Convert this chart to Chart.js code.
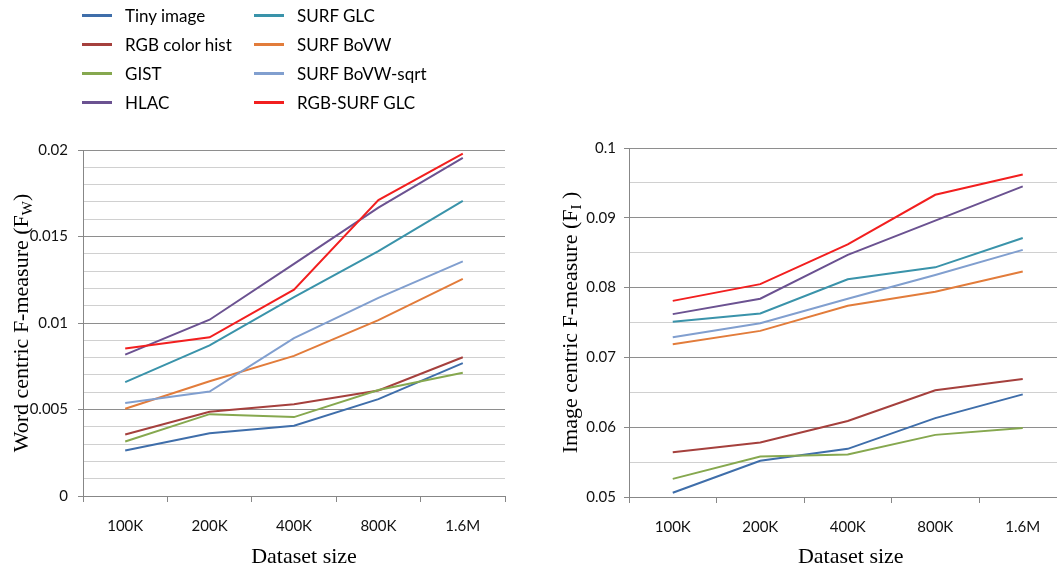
<!DOCTYPE html>
<html>
<head>
<meta charset="utf-8">
<script src="https://cdn.jsdelivr.net/npm/chart.js@4/dist/chart.umd.min.js"></script>
<style>
  html, body { margin: 0; padding: 0; background: #fff; width: 1057px; height: 566px; overflow: hidden; }
  #wrap { position: relative; width: 1057px; height: 566px; overflow: hidden; }
  #fwChart { position: absolute; left: 0; top: 0; }
  #fiChart { position: absolute; left: 540px; top: 0; }
  #legend { position: absolute; left: 0; top: 0; font-family: Lato, "Open Sans", sans-serif; font-size: 17px; color: #000; }
  .legend-item { position: absolute; height: 20px; display: flex; align-items: center; white-space: nowrap; }
  .legend-swatch { width: 30px; height: 3px; margin-right: 13px; }
</style>
</head>
<body>
<div id="wrap">
  <canvas id="fwChart" width="540" height="566"></canvas>
  <canvas id="fiChart" width="540" height="566"></canvas>
  <div id="legend"></div>
</div>
<script>
// Dataset sizes on the x axis
const categories = ['100K', '200K', '400K', '800K', '1.6M'];

// Feature names and line colours
const seriesNames = ['Tiny image', 'RGB color hist', 'GIST', 'HLAC', 'SURF GLC', 'SURF BoVW', 'SURF BoVW-sqrt', 'RGB-SURF GLC'];
const seriesColors = ['#3F6EAA', '#A5403D', '#86A84F', '#6B5291', '#3A93AA', '#E27C3B', '#819FCF', '#F21F1F'];

// Word centric F-measure (F_W)
const fwTinyImage    = [0.00263, 0.00363, 0.00406, 0.00560, 0.00768];
const fwRgbHist      = [0.00356, 0.00487, 0.00531, 0.00610, 0.00802];
const fwGist         = [0.00315, 0.00473, 0.00456, 0.00613, 0.00713];
const fwHlac         = [0.00817, 0.01019, 0.01342, 0.01667, 0.01954];
const fwSurfGlc      = [0.00658, 0.00871, 0.01149, 0.01416, 0.01706];
const fwSurfBovw     = [0.00504, 0.00663, 0.00810, 0.01017, 0.01255];
const fwSurfBovwSqrt = [0.00537, 0.00604, 0.00913, 0.01145, 0.01356];
const fwRgbSurfGlc   = [0.00852, 0.00917, 0.01193, 0.01710, 0.01979];

// Image centric F-measure (F_I)
const fiTinyImage    = [0.0506, 0.0552, 0.0569, 0.0613, 0.0647];
const fiRgbHist      = [0.0564, 0.0578, 0.0609, 0.0653, 0.0669];
const fiGist         = [0.0526, 0.0558, 0.0561, 0.0589, 0.0599];
const fiHlac         = [0.0762, 0.0784, 0.0847, 0.0896, 0.0945];
const fiSurfGlc      = [0.0751, 0.0763, 0.0812, 0.0829, 0.0871];
const fiSurfBovw     = [0.0719, 0.0738, 0.0774, 0.0794, 0.0823];
const fiSurfBovwSqrt = [0.0729, 0.0749, 0.0784, 0.0818, 0.0854];
const fiRgbSurfGlc   = [0.0781, 0.0805, 0.0862, 0.0933, 0.0962];

// Y axis ranges: [min, max, grid step, labelled step]
const fwAxis = [0, 0.02, 0.001, 0.005];
const fiAxis = [0.05, 0.1, 0.005, 0.01];

const wordCentric = [fwTinyImage, fwRgbHist, fwGist, fwHlac, fwSurfGlc, fwSurfBovw, fwSurfBovwSqrt, fwRgbSurfGlc];
const imageCentric = [fiTinyImage, fiRgbHist, fiGist, fiHlac, fiSurfGlc, fiSurfBovw, fiSurfBovwSqrt, fiRgbSurfGlc];

const AXIS_GRAY = '#878787';
const MAJOR_GRID = '#8E8E8E';
const MINOR_GRID = '#D0D0D0';
const TICK_TEXT = '#111111';
const SERIF = '"Liberation Serif", "DejaVu Serif", serif';

Chart.defaults.font.family = 'Lato, "Open Sans", sans-serif';
Chart.defaults.font.size = 15;

function onStep(value, step) {
  const r = value / step;
  return Math.abs(r - Math.round(r)) < 1e-6;
}

// Rotated y title with a subscript, plus the x title
const axisTitles = {
  id: 'axisTitles',
  afterDraw(chart, args, o) {
    const { ctx, chartArea } = chart;
    const main = '22px ' + SERIF;
    const sub = '15px ' + SERIF;
    ctx.save();
    ctx.fillStyle = '#000';
    ctx.textBaseline = 'alphabetic';
    ctx.translate(o.yBaseline, (chartArea.top + chartArea.bottom) / 2);
    ctx.rotate(-Math.PI / 2);
    ctx.font = main;
    const w1 = ctx.measureText(o.yText).width;
    const w3 = ctx.measureText(o.yTail).width;
    ctx.font = sub;
    const w2 = ctx.measureText(o.ySub).width;
    let x = -(w1 + w2 + w3) / 2;
    ctx.font = main; ctx.fillText(o.yText, x, 0); x += w1;
    ctx.font = sub;  ctx.fillText(o.ySub, x, 4); x += w2;
    ctx.font = main; ctx.fillText(o.yTail, x, 0);
    ctx.restore();

    ctx.save();
    ctx.fillStyle = '#000';
    ctx.font = main;
    ctx.textAlign = 'center';
    ctx.textBaseline = 'alphabetic';
    ctx.fillText(o.xText, (chartArea.left + chartArea.right) / 2 + o.xShift, o.xBaseline);
    ctx.restore();
  }
};

function makeChart(canvasId, values, axis, geom, titles) {
  const [yMin, yMax, step, major] = axis;
  const datasets = values.map((v, i) => ({
    label: seriesNames[i],
    data: v,
    borderColor: seriesColors[i],
    backgroundColor: seriesColors[i],
    borderWidth: 2,
    pointRadius: 0,
    pointHoverRadius: 0,
    tension: 0,
    fill: false,
    order: values.length - i
  }));
  return new Chart(document.getElementById(canvasId), {
    type: 'line',
    data: { labels: categories, datasets },
    options: {
      responsive: false,
      animation: false,
      devicePixelRatio: 1,
      layout: { padding: { top: geom.top, right: geom.right, left: 0, bottom: 0 } },
      plugins: {
        legend: { display: false },
        tooltip: { enabled: false },
        axisTitles: titles
      },
      scales: {
        x: {
          type: 'category',
          offset: true,
          grid: { offset: true, drawOnChartArea: false, drawTicks: true, tickLength: 6, tickColor: AXIS_GRAY },
          border: { color: AXIS_GRAY },
          ticks: { padding: 15, color: TICK_TEXT, maxRotation: 0, autoSkip: false },
          afterFit: s => { s.height = geom.xHeight; }
        },
        y: {
          min: yMin,
          max: yMax,
          grid: {
            color: c => (c.tick && onStep(c.tick.value, major)) ? MAJOR_GRID : MINOR_GRID,
            tickColor: c => (c.tick && onStep(c.tick.value, major)) ? AXIS_GRAY : 'rgba(0,0,0,0)',
            tickLength: 5
          },
          border: { color: AXIS_GRAY },
          ticks: {
            stepSize: step,
            autoSkip: false,
            padding: geom.yPad,
            color: TICK_TEXT,
            callback: v => onStep(v, major) ? String(parseFloat(v.toFixed(4))) : ''
          },
          afterFit: s => { s.width = geom.yWidth; }
        }
      }
    },
    plugins: [axisTitles]
  });
}

const fwChart = makeChart('fwChart', wordCentric, fwAxis,
  { top: 150, right: 35, xHeight: 70, yWidth: 83, yPad: 10 },
  { yText: 'Word centric F-measure (F', ySub: 'W', yTail: ')', yBaseline: 28,
    xText: 'Dataset size', xShift: 10, xBaseline: 563 });

const fiChart = makeChart('fiChart', imageCentric, fiAxis,
  { top: 148, right: 13.5, xHeight: 69, yWidth: 89, yPad: 8 },
  { yText: 'Image centric F-measure (F', ySub: 'I', yTail: ' )', yBaseline: 37,
    xText: 'Dataset size', xShift: 3, xBaseline: 563 });

// Two-column legend built from the chart's datasets
const legend = document.getElementById('legend');
const colX = [82, 254];
const rowY = [15, 44, 73, 102];
fwChart.data.datasets.forEach((ds, i) => {
  const item = document.createElement('div');
  item.className = 'legend-item';
  item.style.left = colX[Math.floor(i / 4)] + 'px';
  item.style.top = (rowY[i % 4] - 10) + 'px';
  const sw = document.createElement('span');
  sw.className = 'legend-swatch';
  sw.style.background = ds.borderColor;
  const tx = document.createElement('span');
  tx.textContent = ds.label;
  item.appendChild(sw);
  item.appendChild(tx);
  legend.appendChild(item);
});
</script>
</body>
</html>
